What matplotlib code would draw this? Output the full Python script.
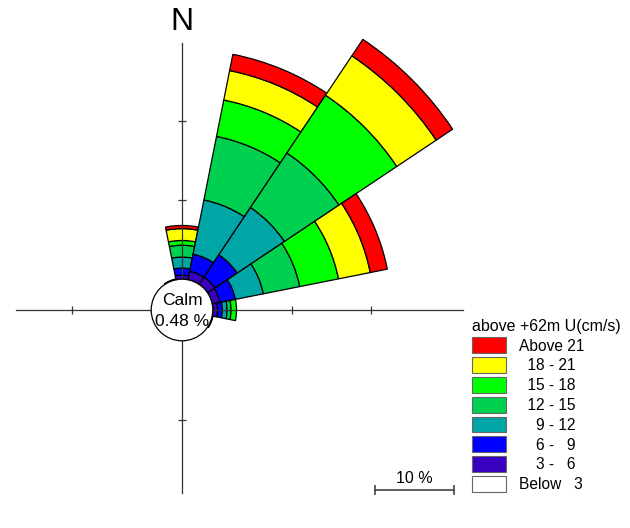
import matplotlib
matplotlib.use("Agg")
import matplotlib.pyplot as plt
from matplotlib.patches import Wedge, Circle, Patch
import numpy as np

plt.rcParams['font.family'] = ['Liberation Sans', 'DejaVu Sans']

# 16 compass sectors, N first, clockwise
directions = ['N', 'NNE', 'NE', 'ENE', 'E', 'ESE', 'SE', 'SSE',
              'S', 'SSW', 'SW', 'WSW', 'W', 'WNW', 'NW', 'NNW']

# frequency (%) of each speed class per direction
below_3  = [0.0, 0.0, 0.0, 0.0, 0.0, 0.0, 0, 0, 0, 0, 0, 0, 0, 0, 0, 0.0]
spd_3_6  = [0.5, 1.1, 1.1, 1.0, 0.6, 0.1, 0, 0, 0, 0, 0, 0, 0, 0, 0, 0.1]
spd_6_9  = [0.9, 2.2, 3.4, 2.0, 0.6, 0.0, 0, 0, 0, 0, 0, 0, 0, 0, 0, 0.0]
spd_9_12 = [1.4, 7.0, 7.2, 3.6, 0.6, 0.0, 0, 0, 0, 0, 0, 0, 0, 0, 0, 0.0]
spd_12_15 = [1.5, 8.2, 8.3, 4.7, 0.5, 0.0, 0, 0, 0, 0, 0, 0, 0, 0, 0, 0.0]
spd_15_18 = [0.6, 4.7, 8.8, 5.0, 0.7, 0.0, 0, 0, 0, 0, 0, 0, 0, 0, 0, 0.0]
spd_18_21 = [1.5, 3.8, 6.0, 4.1, 0.0, 0.0, 0, 0, 0, 0, 0, 0, 0, 0, 0, 0.0]
above_21 = [0.4, 2.1, 2.5, 2.2, 0.0, 0.0, 0, 0, 0, 0, 0, 0, 0, 0, 0, 0.0]

classes = [below_3, spd_3_6, spd_6_9, spd_9_12, spd_12_15, spd_15_18, spd_18_21, above_21]
class_labels = ['Below   3', '    3 -   6', '    6 -   9', '    9 - 12',
                '  12 - 15', '  15 - 18', '  18 - 21', 'Above 21']
colors = ['#FFFFFF', '#3A00C0', '#0000FF', '#00A5A5', '#00D050', '#00FF00', '#FFFF00', '#FF0000']

calm = 0.48
calm_r = 3.9      # radius of calm circle, in % units
scale = 7.9       # pixels per %

fig = plt.figure(figsize=(6.3, 5.28), dpi=100)
ax = fig.add_axes([0, 0, 1, 1])
ax.set_xlim(-182 / scale, 448 / scale)
ax.set_ylim(-218 / scale, 310 / scale)
ax.axis('off')

# petals
width = 360 / len(directions)
for i, d in enumerate(directions):
    compass = i * width
    th1 = 90 - compass - width / 2
    th2 = 90 - compass + width / 2
    r = calm_r
    for vals, col in zip(classes, colors):
        v = vals[i]
        if v <= 0:
            continue
        ax.add_patch(Wedge((0, 0), r + v, th1, th2, width=v,
                           facecolor=col, edgecolor='black', lw=0.9, zorder=1))
        r += v

# axis lines with ticks
lc = '#333333'
ax.plot([-166 / scale, 281 / scale], [0, 0], color=lc, lw=0.9, zorder=2)
ax.plot([0, 0], [-183 / scale, 267 / scale], color=lc, lw=0.9, zorder=2)
ticks = np.array([10, 20])
ax.plot(np.r_[-(calm_r + 10), calm_r + ticks], np.zeros(3), ls='none',
        marker='|', ms=6, mew=0.9, color=lc, zorder=2)
ax.plot(np.zeros(3), np.r_[-(calm_r + 10), calm_r + ticks], ls='none',
        marker='_', ms=6, mew=0.9, color=lc, zorder=2)

# calm circle
ax.add_patch(Circle((0, 0), calm_r, facecolor='white', edgecolor='black', lw=0.9, zorder=3))
ax.text(0, 1.25, 'Calm', ha='center', va='center', fontsize=12.5, zorder=4)
ax.text(0, -1.4, f'{calm:.2f} %', ha='center', va='center', fontsize=12.5, zorder=4)

ax.text(0, 288 / scale, 'N', ha='center', va='center', fontsize=23)

# scale bar
sx0 = 193 / scale
sy = -180 / scale
ax.plot([sx0, sx0 + 10], [sy, sy], color='#444444', lw=1.2, marker='|', ms=7, mew=1.2)
ax.text(sx0 + 5, sy + 0.5, '10 %', ha='center', va='bottom', fontsize=11.5)

# legend
handles = [Patch(facecolor=c, edgecolor='#666666', lw=0.8) for c in colors[::-1]]
leg = fig.legend(handles, class_labels[::-1], title='above +62m U(cm/s)',
                 loc='upper left', bbox_to_anchor=(466 / 630, 1 - 312.5 / 528),
                 frameon=False, fontsize=11.2, title_fontsize=11.5, alignment='left',
                 handlelength=2.2, handleheight=1.2, labelspacing=0.23,
                 handletextpad=0.8, borderpad=0.4, borderaxespad=0)

fig.savefig('out.png', dpi=100)
